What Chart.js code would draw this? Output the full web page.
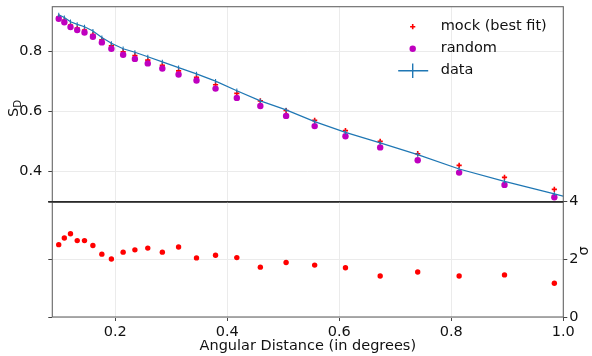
<!DOCTYPE html>
<html><head><meta charset="utf-8">
<script src="https://cdn.jsdelivr.net/npm/chart.js@4.4.1/dist/chart.umd.min.js"></script>
<style>
html,body{margin:0;padding:0;background:#fff;}
#wrap{position:relative;width:592px;height:356px;overflow:hidden;background:#fff;}
canvas{position:absolute;left:0;}
#top{top:0;}
#bot{top:190px;}
</style></head><body>
<div id="wrap"><canvas id="top" width="592" height="210"></canvas><canvas id="bot" width="592" height="166"></canvas></div>
<script>
// ---- data ----
const angularDistance = [0.099, 0.109, 0.120, 0.132, 0.145, 0.160, 0.176, 0.193, 0.214, 0.235, 0.258, 0.284, 0.313, 0.345, 0.379, 0.417, 0.459, 0.505, 0.556, 0.611, 0.673, 0.740, 0.814, 0.895, 0.984];
const mockSD   = [0.915, 0.905, 0.889, 0.879, 0.872, 0.857, 0.840, 0.820, 0.800, 0.787, 0.772, 0.755, 0.736, 0.715, 0.690, 0.661, 0.636, 0.604, 0.571, 0.537, 0.501, 0.460, 0.421, 0.381, 0.341];
const randomSD = [0.910, 0.898, 0.882, 0.872, 0.864, 0.850, 0.831, 0.810, 0.790, 0.776, 0.761, 0.744, 0.724, 0.704, 0.677, 0.646, 0.619, 0.586, 0.552, 0.518, 0.481, 0.438, 0.397, 0.356, 0.315];
const dataAngles = [0.099, 0.109, 0.120, 0.132, 0.145, 0.160, 0.176, 0.193, 0.214, 0.235, 0.258, 0.284, 0.313, 0.345, 0.379, 0.417, 0.459, 0.505, 0.556, 0.611, 0.673, 0.740, 0.814, 0.895, 0.984, 1.083];
const dataSD   = [0.923, 0.914, 0.900, 0.891, 0.883, 0.869, 0.847, 0.828, 0.810, 0.798, 0.783, 0.766, 0.747, 0.726, 0.702, 0.670, 0.636, 0.606, 0.567, 0.531, 0.496, 0.457, 0.409, 0.368, 0.326, 0.279];
const dataErr  = [0.007, 0.007, 0.007, 0.007, 0.007, 0.007, 0.007, 0.007, 0.007, 0.007, 0.007, 0.007, 0.007, 0.007, 0.007, 0.007, 0.007, 0.007, 0.007, 0.007, 0.007, 0.007, 0.007, 0.007, 0.007, 0.007];
const sigma    = [2.51, 2.74, 2.89, 2.65, 2.65, 2.48, 2.18, 2.01, 2.25, 2.33, 2.39, 2.25, 2.43, 2.05, 2.14, 2.06, 1.73, 1.89, 1.80, 1.71, 1.42, 1.56, 1.42, 1.46, 1.17];
const xTicks = [0.2, 0.4, 0.6, 0.8, 1.0];
const sdTicks = [0.4, 0.6, 0.8];
const sigmaTicks = [0, 2, 4];
const seriesLabels = ['mock (best fit)', 'random', 'data'];
const xTitle = 'Angular Distance (in degrees)';

// ---- style ----
const FONT = "'DejaVu Sans', sans-serif";
const FS = 14.5;
Chart.defaults.font.family = FONT;
Chart.defaults.font.size = FS;
Chart.defaults.color = '#111';
const GRID = '#ebebeb';
const TICKC = '#444';
const RED = '#ff0000', MAG = '#bf00bf', BLUE = '#1f77b4';

function fixW(w){ return s => { s.width = w; s.paddingTop = 0; s.paddingBottom = 0; s.paddingLeft = 0; s.paddingRight = 0; }; }
function fixH(h){ return s => { s.height = h; s.paddingTop = 0; s.paddingBottom = 0; s.paddingLeft = 0; s.paddingRight = 0; }; }
function setTicks(arr){ return s => { s.ticks = arr.map(v => ({value: v})); }; }
const pts = (xs, ys) => xs.map((x, i) => ({x: x, y: ys[i]}));

const framePlugin = {
  id: 'frame',
  afterDatasetsDraw(chart, args, opts) {
    const {ctx, chartArea: a} = chart;
    ctx.save();
    ctx.strokeStyle = '#666'; ctx.lineWidth = 1.1;
    ctx.strokeRect(a.left, a.top, a.right - a.left, a.bottom - a.top);
    ctx.strokeStyle = '#2a2a2a'; ctx.lineWidth = 1.4;
    const yy = opts.sep === 'bottom' ? a.bottom : a.top;
    ctx.beginPath(); ctx.moveTo(a.left - 4, yy); ctx.lineTo(a.right, yy); ctx.stroke();
    ctx.restore();
  }
};

const errPlugin = {
  id: 'errbars',
  afterDatasetDraw(chart, args) {
    if (args.index !== 2) return;
    const {ctx, chartArea: a, scales} = chart;
    ctx.save();
    ctx.beginPath(); ctx.rect(a.left, a.top, a.right - a.left, a.bottom - a.top); ctx.clip();
    ctx.strokeStyle = BLUE; ctx.lineWidth = 1.1;
    dataAngles.forEach((x, i) => {
      const px = scales.x.getPixelForValue(x);
      const y1 = scales.y.getPixelForValue(dataSD[i] - dataErr[i]);
      const y2 = scales.y.getPixelForValue(dataSD[i] + dataErr[i]);
      ctx.beginPath(); ctx.moveTo(px, y1); ctx.lineTo(px, y2); ctx.stroke();
    });
    ctx.restore();
  }
};

const legendPlugin = {
  id: 'mylegend',
  afterDraw(chart) {
    const ctx = chart.ctx;
    ctx.save();
    const mx = 412.7, tx = 440.7, ys = [26.7, 48.7, 70.7];
    // mock marker
    ctx.strokeStyle = RED; ctx.lineWidth = 1.6;
    const r = 2.6;
    ctx.beginPath();
    ctx.moveTo(mx - r, ys[0]); ctx.lineTo(mx + r, ys[0]);
    ctx.moveTo(mx, ys[0] - r); ctx.lineTo(mx, ys[0] + r);
    ctx.stroke();
    // random marker
    ctx.fillStyle = MAG;
    ctx.beginPath(); ctx.arc(mx, ys[1], 3.2, 0, Math.PI * 2); ctx.fill();
    // data marker
    ctx.strokeStyle = BLUE; ctx.lineWidth = 1.4;
    ctx.beginPath();
    ctx.moveTo(mx - 14.5, ys[2]); ctx.lineTo(mx + 15.5, ys[2]);
    ctx.moveTo(mx, ys[2] - 7.3); ctx.lineTo(mx, ys[2] + 7.3);
    ctx.stroke();
    ctx.fillStyle = '#111';
    ctx.font = FS + 'px ' + FONT;
    ctx.textBaseline = 'middle'; ctx.textAlign = 'left';
    seriesLabels.forEach((t, i) => ctx.fillText(t, tx, ys[i]));
    ctx.restore();
  }
};

const sdTitlePlugin = {
  id: 'sdtitle',
  afterDraw(chart) {
    const ctx = chart.ctx;
    ctx.save();
    ctx.translate(13.5, 108.5);
    ctx.rotate(-Math.PI / 2);
    ctx.fillStyle = '#111';
    ctx.textBaseline = 'alphabetic';
    ctx.font = FS + 'px ' + FONT;
    const wS = ctx.measureText('S').width;
    ctx.font = '10.2px ' + FONT;
    const wD = ctx.measureText('D').width;
    const x0 = -(wS + wD) / 2;
    ctx.font = FS + 'px ' + FONT;
    ctx.fillText('S', x0, 4.5);
    ctx.font = '10.2px ' + FONT;
    ctx.fillText('D', x0 + wS, 7.8);
    ctx.restore();
  }
};

const sigmaTitlePlugin = {
  id: 'sigtitle',
  afterDraw(chart) {
    const ctx = chart.ctx;
    ctx.save();
    ctx.translate(584, 251 - 190);
    ctx.rotate(-Math.PI / 2);
    ctx.fillStyle = '#111';
    ctx.font = FS + 'px ' + FONT;
    ctx.textAlign = 'center'; ctx.textBaseline = 'middle';
    ctx.fillText('σ', 0, 0);
    ctx.restore();
  }
};

const common = { responsive: false, animation: false, devicePixelRatio: 1, events: [],
  plugins: { legend: { display: false }, tooltip: { enabled: false } } };

new Chart(document.getElementById('top'), {
  type: 'scatter',
  data: { datasets: [
    { label: seriesLabels[0], data: pts(angularDistance, mockSD), pointStyle: 'cross', pointRadius: 2.6,
      pointBorderWidth: 1.6, borderColor: RED, backgroundColor: RED, order: 3 },
    { label: seriesLabels[1], data: pts(angularDistance, randomSD), pointStyle: 'circle', pointRadius: 3.2,
      pointBorderWidth: 0, borderColor: MAG, backgroundColor: MAG, order: 2 },
    { label: seriesLabels[2], type: 'line', data: pts(dataAngles, dataSD), borderColor: BLUE, backgroundColor: BLUE,
      borderWidth: 1.2, pointRadius: 0, fill: false, tension: 0, order: 1 }
  ]},
  options: Object.assign({}, common, {
    layout: { padding: { top: 6.7, right: 28.7, left: 0, bottom: 0 } },
    plugins: Object.assign({}, common.plugins, { frame: { sep: 'bottom' } }),
    scales: {
      x: { type: 'linear', min: 0.0875, max: 1.0, afterBuildTicks: setTicks(xTicks),
        ticks: { display: false }, grid: { color: GRID, lineWidth: 1, drawTicks: false },
        border: { display: false }, afterFit: fixH(8.3) },
      y: { type: 'linear', position: 'left', min: 0.30, max: 0.95, afterBuildTicks: setTicks(sdTicks),
        ticks: { padding: 6, callback: v => v.toFixed(1) },
        grid: { color: GRID, lineWidth: 1, tickColor: TICKC, tickLength: 4, tickWidth: 1 },
        border: { display: false }, afterFit: fixW(52.3) }
    }
  }),
  plugins: [framePlugin, errPlugin, legendPlugin, sdTitlePlugin]
});

new Chart(document.getElementById('bot'), {
  type: 'scatter',
  data: { datasets: [
    { label: 'σ', data: pts(angularDistance, sigma), xAxisID: 'x', yAxisID: 'ys', pointStyle: 'circle',
      pointRadius: 2.7, pointBorderWidth: 0, borderColor: RED, backgroundColor: RED }
  ]},
  options: Object.assign({}, common, {
    layout: { padding: { top: 11.7, right: 0, left: 0, bottom: 0 } },
    plugins: Object.assign({}, common.plugins, { frame: { sep: 'top' } }),
    scales: {
      x: { type: 'linear', min: 0.0875, max: 1.0, afterBuildTicks: setTicks(xTicks),
        ticks: { padding: 3, maxRotation: 0, autoSkip: false, callback: v => v.toFixed(1) },
        grid: { color: GRID, lineWidth: 1, tickColor: TICKC, tickLength: 4, tickWidth: 1 },
        border: { display: false },
        title: { display: true, text: xTitle, padding: { top: 0, bottom: 1 } },
        afterFit: fixH(39) },
      yl: { type: 'linear', axis: 'y', position: 'left', min: 0, max: 4, afterBuildTicks: setTicks(sigmaTicks),
        ticks: { display: false },
        grid: { drawOnChartArea: false, tickColor: TICKC, tickLength: 4, tickWidth: 1 },
        border: { display: false }, afterFit: fixW(52.3) },
      ys: { type: 'linear', axis: 'y', position: 'right', min: 0, max: 4, afterBuildTicks: setTicks(sigmaTicks),
        ticks: { padding: 2, callback: v => String(v) },
        grid: { color: GRID, lineWidth: 1, tickColor: TICKC, tickLength: 4, tickWidth: 1 },
        border: { display: false }, afterFit: fixW(28.7) }
    }
  }),
  plugins: [framePlugin, sigmaTitlePlugin]
});
</script>
</body></html>
